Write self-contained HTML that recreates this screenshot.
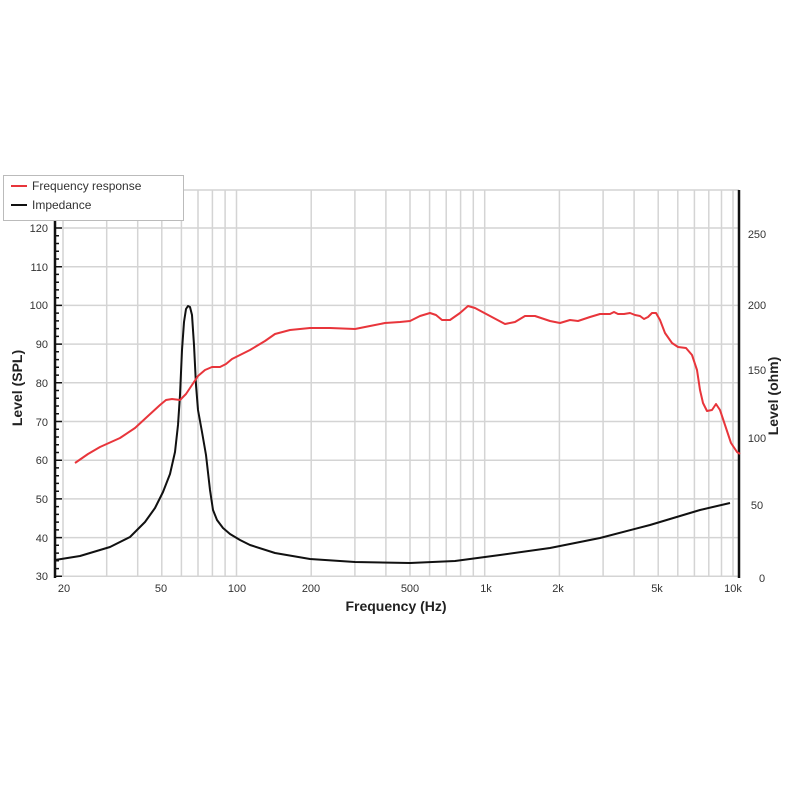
<!DOCTYPE html>
<html><head><meta charset="utf-8"><style>
html,body{margin:0;padding:0;background:#fff;width:800px;height:800px;overflow:hidden}
svg{display:block;font-family:"Liberation Sans",sans-serif}
</style></head><body>
<svg width="800" height="800" viewBox="0 0 800 800">
<g stroke="#d4d4d4" stroke-width="1.5" fill="none">
<!-- horizontal grid -->
<line x1="55" y1="190" x2="739" y2="190"/>
<line x1="55" y1="228" x2="739" y2="228"/>
<line x1="55" y1="266.7" x2="739" y2="266.7"/>
<line x1="55" y1="305.4" x2="739" y2="305.4"/>
<line x1="55" y1="344.1" x2="739" y2="344.1"/>
<line x1="55" y1="382.8" x2="739" y2="382.8"/>
<line x1="55" y1="421.5" x2="739" y2="421.5"/>
<line x1="55" y1="460.2" x2="739" y2="460.2"/>
<line x1="55" y1="498.9" x2="739" y2="498.9"/>
<line x1="55" y1="537.6" x2="739" y2="537.6"/>
<line x1="55" y1="576.3" x2="739" y2="576.3"/>
<!-- vertical grid -->
<line x1="63" y1="190" x2="63" y2="576"/>
<line x1="106.7" y1="190" x2="106.7" y2="576"/>
<line x1="137.7" y1="190" x2="137.7" y2="576"/>
<line x1="161.8" y1="190" x2="161.8" y2="576"/>
<line x1="181.4" y1="190" x2="181.4" y2="576"/>
<line x1="198" y1="190" x2="198" y2="576"/>
<line x1="212.4" y1="190" x2="212.4" y2="576"/>
<line x1="225.1" y1="190" x2="225.1" y2="576"/>
<line x1="236.5" y1="190" x2="236.5" y2="576"/>
<line x1="311.2" y1="190" x2="311.2" y2="576"/>
<line x1="354.9" y1="190" x2="354.9" y2="576"/>
<line x1="385.9" y1="190" x2="385.9" y2="576"/>
<line x1="410" y1="190" x2="410" y2="576"/>
<line x1="429.6" y1="190" x2="429.6" y2="576"/>
<line x1="446.2" y1="190" x2="446.2" y2="576"/>
<line x1="460.6" y1="190" x2="460.6" y2="576"/>
<line x1="473.3" y1="190" x2="473.3" y2="576"/>
<line x1="484.7" y1="190" x2="484.7" y2="576"/>
<line x1="559.4" y1="190" x2="559.4" y2="576"/>
<line x1="603.1" y1="190" x2="603.1" y2="576"/>
<line x1="634.1" y1="190" x2="634.1" y2="576"/>
<line x1="658.2" y1="190" x2="658.2" y2="576"/>
<line x1="677.8" y1="190" x2="677.8" y2="576"/>
<line x1="694.4" y1="190" x2="694.4" y2="576"/>
<line x1="708.8" y1="190" x2="708.8" y2="576"/>
<line x1="721.5" y1="190" x2="721.5" y2="576"/>
<line x1="733" y1="190" x2="733" y2="576"/>
</g>
<!-- left axis -->
<line x1="55" y1="190" x2="55" y2="578" stroke="#111" stroke-width="2.5"/>
<path id="ticks" stroke="#111" stroke-width="1.5" d="M55 228h7M55 235.7h4M55 243.5h4M55 251.2h4M55 259h4M55 266.7h7M55 274.4h4M55 282.2h4M55 289.9h4M55 297.7h4M55 305.4h7M55 313.1h4M55 320.9h4M55 328.6h4M55 336.4h4M55 344.1h7M55 351.8h4M55 359.6h4M55 367.3h4M55 375.1h4M55 382.8h7M55 390.5h4M55 398.3h4M55 406h4M55 413.8h4M55 421.5h7M55 429.2h4M55 437h4M55 444.7h4M55 452.5h4M55 460.2h7M55 467.9h4M55 475.7h4M55 483.4h4M55 491.2h4M55 498.9h7M55 506.6h4M55 514.4h4M55 522.1h4M55 529.9h4M55 537.6h7M55 545.3h4M55 553.1h4M55 560.8h4M55 568.6h4M55 576.3h7M55 220.3h4M55 212.5h4M55 204.8h4M55 197h4"/>
<!-- right axis -->
<line x1="739" y1="190" x2="739" y2="578" stroke="#111" stroke-width="2.5"/>
<g font-size="11" fill="#333" text-anchor="end">
<text x="48" y="232">120</text><text x="48" y="271">110</text><text x="48" y="309">100</text><text x="48" y="348">90</text><text x="48" y="387">80</text><text x="48" y="426">70</text><text x="48" y="464">60</text><text x="48" y="503">50</text><text x="48" y="542">40</text><text x="48" y="580">30</text>
</g>
<g font-size="11" fill="#333" text-anchor="middle">
<text x="757" y="238">250</text><text x="757" y="309">200</text><text x="757" y="374">150</text><text x="757" y="442">100</text><text x="757" y="509">50</text><text x="762" y="582">0</text>
<text x="64" y="592">20</text><text x="161" y="592">50</text><text x="237" y="592">100</text><text x="311" y="592">200</text><text x="410" y="592">500</text><text x="486" y="592">1k</text><text x="558" y="592">2k</text><text x="657" y="592">5k</text><text x="733" y="592">10k</text>
</g>
<text x="396" y="611" font-size="14" font-weight="bold" fill="#222" text-anchor="middle">Frequency (Hz)</text>
<text transform="translate(22,388) rotate(-90)" font-size="14" font-weight="bold" fill="#222" text-anchor="middle">Level (SPL)</text>
<text transform="translate(778,396) rotate(-90)" font-size="14" font-weight="bold" fill="#222" text-anchor="middle">Level (ohm)</text>
<!-- impedance -->
<polyline fill="none" stroke="#111" stroke-width="2" stroke-linejoin="round" points="55,560 80,556 110,547 130,537 145,522 155,508 163,492 170,474 175,452 178,425 180,395 182,350 184,322 186,309 188,306 190,307 192,315 194,345 196,385 198,410 202,432 206,455 210,490 213,510 217,520 223,528 230,534 240,540 250,545 275,553 310,559 355,562 410,563 455,561 500,555 550,548 600,538 650,525 700,510 730,503"/>
<!-- frequency response -->
<polyline fill="none" stroke="#e8353b" stroke-width="2" stroke-linejoin="round" points="75,463 88,454 100,447 120,438 135,428 148,416 160,405 166,400 172,399 180,400 186,394 192,385 198,376 205,370 212,367 220,367 226,364 232,359 250,350 265,341 275,334 290,330 310,328 330,328 355,329 370,326 385,323 400,322 410,321 420,316 430,313 436,315 442,320 450,320 460,313 468,306 475,308 490,316 505,324 515,322 525,316 535,316 550,321 560,323 570,320 578,321 590,317 600,314 610,314 614,312 618,314 624,314 630,313 635,315 640,316 644,319 648,317 652,313 656,313 660,320 665,333 672,343 678,347 686,348 692,355 697,370 700,390 703,403 707,411 712,410 716,404 720,410 725,425 731,443 737,452 740,454"/>
<!-- legend -->
<rect x="3.5" y="175.5" width="180" height="45" fill="#fff" stroke="#bbb" stroke-width="1"/>
<line x1="11" y1="186" x2="27" y2="186" stroke="#e8353b" stroke-width="2"/>
<line x1="11" y1="205" x2="27" y2="205" stroke="#111" stroke-width="2"/>
<text x="32" y="190" font-size="12" fill="#333">Frequency response</text>
<text x="32" y="209" font-size="12" fill="#333">Impedance</text>
</svg>
</body></html>
